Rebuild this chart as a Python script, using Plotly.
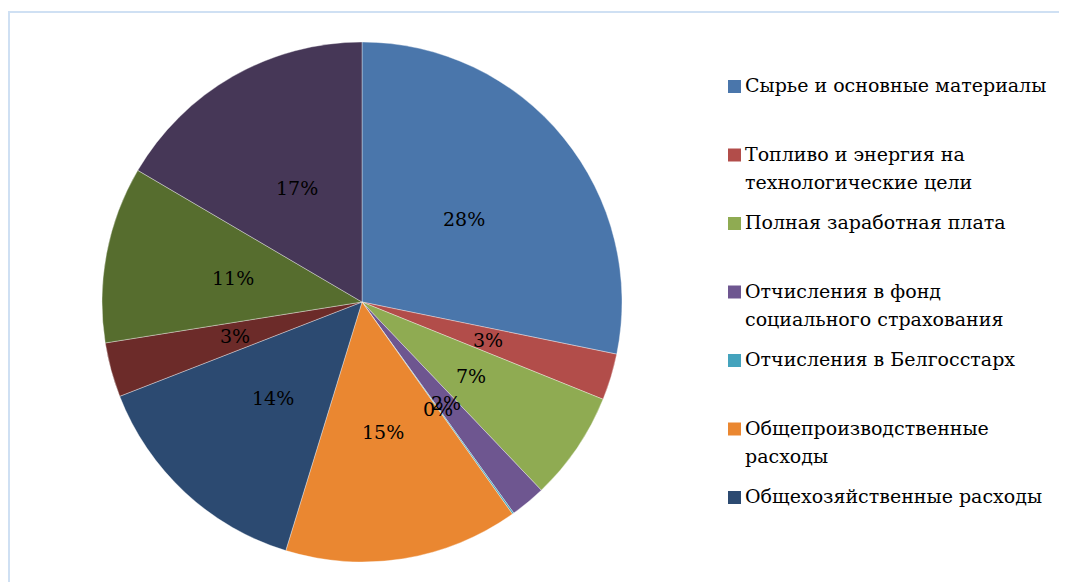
import math
import plotly.graph_objects as go

# ---- data ----
categories = [
    "Сырье и основные материалы",
    "Топливо и энергия на технологические цели",
    "Полная заработная плата",
    "Отчисления в фонд социального страхования",
    "Отчисления в Белгосстарх",
    "Общепроизводственные расходы",
    "Общехозяйственные расходы",
    "Прочие расходы",
    "Коммерческие расходы",
    "Прибыль",
]
values = [28.3, 2.9, 6.8, 2.2, 0.1, 14.6, 14.4, 3.4, 11.0, 16.6]
legend_labels = [
    "Сырье и основные материалы",
    "Топливо и энергия на<br>технологические цели",
    "Полная заработная плата",
    "Отчисления в фонд<br>социального страхования",
    "Отчисления в Белгосстарх",
    "Общепроизводственные<br>расходы",
    "Общехозяйственные расходы",
]
colors = ["#4a76ab", "#b24d4a", "#8fab52", "#6e5690", "#44a3bd",
          "#ea8731", "#2c4a71", "#6c2b29", "#566d2e", "#463757"]

W, H = 1067, 582
FONT = "DejaVu Serif"

CX, CY, R = 354, 294, 260
LABEL_R = 0.505

fig = go.Figure()
fig.add_trace(go.Pie(
    labels=categories,
    values=values,
    sort=False,
    direction="clockwise",
    rotation=0,
    marker=dict(colors=colors, line=dict(color="rgba(255,255,255,0.6)", width=0.6)),
    textinfo="none",
    domain=dict(x=[(CX - R) / W, (CX + R) / W], y=[1 - (CY + R) / H, 1 - (CY - R) / H]),
    showlegend=False,
    hoverinfo="label+percent",
))

annotations = []
total = sum(values)
cum = 0.0
for v in values:
    mid = (cum + v / 2) / total * 2 * math.pi
    cum += v
    px = CX + LABEL_R * R * math.sin(mid)
    py = CY - LABEL_R * R * math.cos(mid)
    annotations.append(dict(xref="paper", yref="paper", x=px / W, y=1 - py / H,
                            xanchor="center", yanchor="middle", showarrow=False,
                            text=f"{round(v / total * 100)}%",
                            font=dict(family=FONT, size=19, color="black")))

shapes = [dict(type="rect", xref="paper", yref="paper",
               x0=1 / W, x1=1.05, y0=-0.05, y1=1 - 4 / H,
               line=dict(color="#cfe0f3", width=2), fillcolor="rgba(0,0,0,0)")]
for i, lab in enumerate(legend_labels):
    yc = 77 + 68.5 * i  # centre of first text line, px from top
    shapes.append(dict(type="rect", xref="paper", yref="paper",
                       x0=720 / W, x1=733 / W,
                       y0=1 - (yc + 8) / H, y1=1 - (yc - 5) / H,
                       fillcolor=colors[i], line=dict(width=0)))
    for j, line in enumerate(lab.split("<br>")):
        annotations.append(dict(xref="paper", yref="paper", x=735 / W,
                                y=1 - (yc + 28 * j) / H,
                                xanchor="left", yanchor="middle", align="left", showarrow=False,
                                text=line, font=dict(family=FONT, size=19, color="black")))

fig.update_layout(
    width=W, height=H,
    margin=dict(l=0, r=0, t=0, b=0),
    paper_bgcolor="white", plot_bgcolor="white",
    shapes=shapes, annotations=annotations,
)
fig.write_html("out.html")
